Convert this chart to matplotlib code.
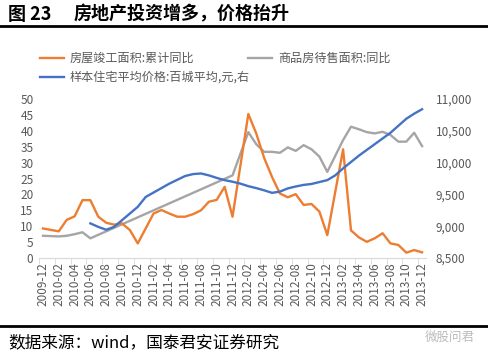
import matplotlib
matplotlib.use("Agg")
import matplotlib.pyplot as plt
import numpy as np
import pandas as pd
from matplotlib.lines import Line2D

plt.rcParams['font.family'] = ['Noto Sans CJK SC', 'DejaVu Sans']

# Months 2009-12 .. 2013-12
months = [str(p) for p in pd.period_range("2009-12", "2013-12", freq="M")]

# 房屋竣工面积:累计同比 (%), January not published
completed = [9.3, None, 8.4, 12.0, 13.1, 18.2, 18.2, 13.0, 11.1, 10.5, 10.9, 8.8,
             4.6, None, 14.0, 15.1, 14.0, 13.0, 13.0, 13.8, 15.0, 17.7, 18.3, 22.4,
             13.0, None, 45.3, 39.2, 31.5, 25.5, 20.3, 19.1, 20.1, 16.7, 17.0, 14.6,
             7.2, None, 34.2, 8.7, 6.5, 5.1, 6.2, 7.8, 4.6, 4.1, 1.7, 2.5,
             1.8]

# 商品房待售面积:同比 (%)
unsold = [7.0, None, 6.8, 7.0, 7.5, 8.1, 6.2, None, None, None, None, None,
          None, None, None, None, None, None, None, None, None, None, None, None,
          26.0, None, 39.6, 35.8, 33.4, 33.4, 33.1, 34.8, 33.7, 35.5, 34.2, 31.9,
          27.1, None, 37.1, 41.3, 40.5, 39.6, 39.2, 39.7, 38.7, 36.6, 36.6, 39.4,
          35.2]

# 样本住宅平均价格:百城平均 (元, right axis)
price = [None, None, None, None, None, None, 9045, 8990, 8945, 8990, 9095, 9200,
         9305, 9460, 9530, 9600, 9670, 9730, 9790, 9820, 9830, 9800, 9760, 9725,
         9700, 9670, 9630, 9600, 9565, 9525, 9545, 9595, 9625, 9650, 9665, 9695,
         9725, 9800, 9910, 10010, 10110, 10200, 10290, 10380, 10470, 10580, 10690, 10770,
         10840]

c_orange = "#ED7D31"
c_gray = "#A5A5A5"
c_blue = "#4472C4"
c_text = "#595959"


def valid(vals):
    s = pd.Series(vals, dtype=float)
    s = s.dropna()
    return s.index.values, s.values


fig = plt.figure(figsize=(4.88, 3.53), dpi=100)
ax = fig.add_axes([0.080, 0.269, 0.793, 0.4504])
ax2 = ax.twinx()

x, y = valid(completed)
ax.plot(x, y, color=c_orange, lw=1.7, zorder=3)
x, y = valid(unsold)
ax.plot(x, y, color=c_gray, lw=1.7, zorder=2)
x, y = valid(price)
ax2.plot(x, y, color=c_blue, lw=1.7)

ax.set_xlim(-0.5, len(months) - 0.5)
ax.set_ylim(0, 50)
ax.set_yticks(np.arange(0, 51, 5))
ax2.set_ylim(8500, 11000)
ax2.set_yticks(np.arange(8500, 11001, 500))
ax2.set_yticklabels([f"{v:,}" for v in range(8500, 11001, 500)])

ax.set_xticks(range(0, len(months), 2))
ax.set_xticklabels(months[::2], rotation=90)
ax.set_xticks(np.arange(-0.5, len(months), 2), minor=True)

for a in (ax, ax2):
    for sp in a.spines.values():
        sp.set_visible(False)
    a.tick_params(axis="y", length=0, labelsize=8.5, labelcolor=c_text)
ax.spines["bottom"].set_visible(True)
ax.spines["bottom"].set_color("#D9D9D9")
ax.tick_params(axis="x", which="major", length=0, labelsize=8.5,
               labelcolor=c_text, pad=3)
ax.tick_params(axis="x", which="minor", length=4, color="#D9D9D9")
ax.tick_params(axis="y", pad=4)
ax2.tick_params(axis="y", pad=7)

# legend drawn by hand
def leg(x0, yy, color, label):
    fig.add_artist(Line2D([x0 / 488, (x0 + 24) / 488], [1 - yy / 353] * 2,
                          color=color, lw=1.7))
    fig.text((x0 + 30) / 488, 1 - yy / 353, label, fontsize=8.7, color=c_text,
             va="center", ha="left")

leg(40, 58, c_orange, "房屋竣工面积:累计同比")
leg(248, 58, c_gray, "商品房待售面积:同比")
leg(40, 77, c_blue, "样本住宅平均价格:百城平均,元,右")

# title, rules and source
fig.text(8 / 488, 1 - 14 / 353, "图 23", fontsize=13, fontweight="bold",
         va="center", ha="left")
fig.text(74 / 488, 1 - 14 / 353, "房地产投资增多，价格抬升", fontsize=13,
         fontweight="bold", va="center", ha="left")
fig.add_artist(Line2D([0, 1], [1 - 26 / 353] * 2, color="black", lw=2))
fig.add_artist(Line2D([0, 1], [1 - 326 / 353] * 2, color="black", lw=2))
fig.text(8 / 488, 1 - 343 / 353, "数据来源：wind，国泰君安证券研究", fontsize=12,
         va="center", ha="left")
fig.text(425 / 488, 1 - 337 / 353, "微股问君", fontsize=9, color="#BBBBBB",
         va="center", ha="left")

fig.savefig("out.png", dpi=100)
